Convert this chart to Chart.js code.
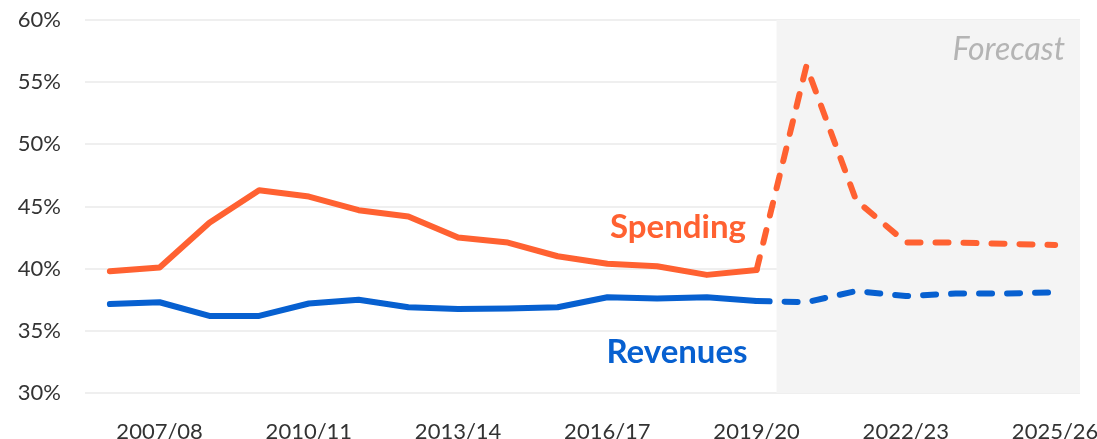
<!DOCTYPE html>
<html>
<head>
<meta charset="utf-8">
<script src="https://cdn.jsdelivr.net/npm/chart.js@4/dist/chart.umd.min.js"></script>
<style>
  html, body { margin: 0; padding: 0; background: #fff; }
  #wrap { width: 1097px; height: 439px; }
</style>
</head>
<body>
<div id="wrap"><canvas id="chart"></canvas></div>
<script>
//Chart data
const years = [
  "2006/07", "2007/08", "2008/09", "2009/10", "2010/11", "2011/12", "2012/13",
  "2013/14", "2014/15", "2015/16", "2016/17", "2017/18", "2018/19", "2019/20",
  "2020/21", "2021/22", "2022/23", "2023/24", "2024/25", "2025/26"
];
const spending = [
  39.8, 40.1, 43.7, 46.3, 45.8, 44.7, 44.2, 42.5, 42.1, 41.0,
  40.4, 40.2, 39.5, 39.9, 56.3, 45.5, 42.1, 42.1, 42.0, 41.9
];
const revenues = [
  37.15, 37.3, 36.2, 36.2, 37.2, 37.5, 36.9, 36.75, 36.8, 36.9,
  37.7, 37.6, 37.7, 37.4, 37.3, 38.2, 37.8, 38.0, 38.0, 38.1
];
const yTicks = [30, 35, 40, 45, 50, 55, 60];
const lastOutturn = 13; //2019/20, forecast starts after this

const orange = "#FF6131";
const blue = "#0760D0";
const fontName = "Lato, 'Open Sans', sans-serif";

//Dashed segments after the last outturn year
const dashAfter = (ctx) =>
  ctx.p0DataIndex >= lastOutturn ? [13, 15] : undefined;

//Grey forecast area, drawn over the grid but under the lines
const forecastShade = {
  id: "forecastShade",
  beforeDatasetsDraw(chart) {
    const { ctx, chartArea, scales } = chart;
    const x0 = scales.x.getPixelForValue(lastOutturn + 0.4);
    ctx.save();
    ctx.fillStyle = "#F4F4F4";
    ctx.fillRect(x0, chartArea.top, chartArea.right - x0, chartArea.bottom - chartArea.top);
    ctx.restore();
  },
  afterDatasetsDraw(chart) {
    const { ctx, scales } = chart;
    const x = scales.x, y = scales.y;
    ctx.save();
    ctx.textBaseline = "middle";
    ctx.textAlign = "center";
    ctx.font = "bold 33px " + fontName;
    ctx.fillStyle = orange;
    ctx.fillText("Spending", x.getPixelForValue(11.42), y.getPixelForValue(43.3));
    ctx.fillStyle = blue;
    ctx.fillText("Revenues", x.getPixelForValue(11.4), y.getPixelForValue(33.3));
    ctx.textAlign = "right";
    ctx.font = "italic 32px " + fontName;
    ctx.fillStyle = "#B4B4B4";
    ctx.fillText("Forecast", chart.chartArea.right - 15, y.getPixelForValue(57.6));
    ctx.restore();
  }
};

const lineStyle = {
  borderWidth: 6,
  pointRadius: 0,
  pointHoverRadius: 0,
  tension: 0,
  borderCapStyle: "round",
  borderJoinStyle: "round",
  fill: false,
};

new Chart(document.getElementById("chart").getContext("2d"), {
  type: "line",
  data: {
    labels: years,
    datasets: [
      {
        label: "Spending",
        data: spending,
        borderColor: orange,
        segment: { borderDash: dashAfter },
        ...lineStyle,
      },
      {
        label: "Revenues",
        data: revenues,
        borderColor: blue,
        segment: { borderDash: dashAfter },
        ...lineStyle,
      },
    ],
  },
  options: {
    responsive: true,
    maintainAspectRatio: false,
    animation: false,
    layout: { padding: { top: 20, right: 17, left: 0, bottom: 0 } },
    plugins: {
      legend: { display: false },
      tooltip: { enabled: false },
    },
    scales: {
      x: {
        type: "category",
        offset: true,
        grid: { display: false },
        border: { display: false },
        ticks: {
          autoSkip: false,
          maxRotation: 0,
          padding: 18,
          color: "#333",
          font: { family: fontName, size: 22 },
          callback: function (value, index) {
            return (index - 1) % 3 === 0 ? this.getLabelForValue(value) : "";
          },
        },
        afterFit(scale) {
          scale.height = 46;
          scale.paddingLeft = 0;
          scale.paddingRight = 0;
        },
      },
      y: {
        min: 30,
        max: 60,
        afterBuildTicks(scale) {
          scale.ticks = yTicks.map((v) => ({ value: v }));
        },
        grid: { color: "#EFEFEF", lineWidth: 2, drawTicks: false },
        border: { display: false },
        ticks: {
          padding: 24,
          color: "#333",
          font: { family: fontName, size: 22 },
          callback: (v) => v + "%",
        },
        afterFit(scale) {
          scale.width = 85;
          scale.paddingTop = 0;
          scale.paddingBottom = 0;
        },
      },
    },
  },
  plugins: [forecastShade],
});
</script>
</body>
</html>
